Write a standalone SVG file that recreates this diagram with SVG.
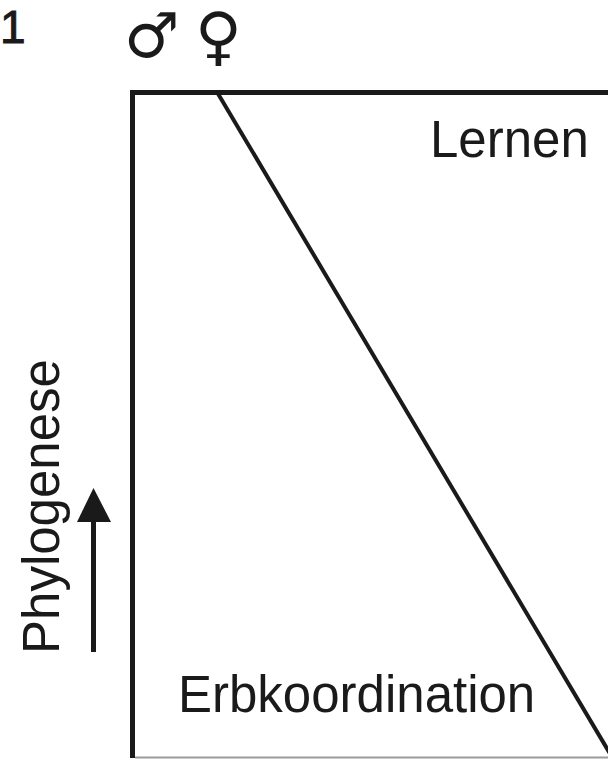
<svg xmlns="http://www.w3.org/2000/svg" width="608" height="759" viewBox="0 0 608 759">
<style>
.lbl{font-family:"Liberation Sans",Arial,sans-serif;font-size:51px;fill:#1a1a1a}
.sym{font-family:"DejaVu Sans",sans-serif;font-size:62px;fill:#1a1a1a}
.edge{stroke:#1a1a1a;fill:none}
</style>
<rect width="608" height="759" fill="#fff"/>
<g id="panel-number"><text class="lbl" x="0" y="43" style="font-size:46px;stroke:#1a1a1a;stroke-width:1">1</text></g>
<g id="symbols">
<text class="sym" x="124" y="57">♂</text>
<text class="sym" x="195" y="58" style="font-size:64px">♀</text>
</g>
<g id="box">
<line class="edge" x1="132.5" y1="92.5" x2="608" y2="92.5" stroke-width="5"/>
<line class="edge" x1="132.5" y1="90" x2="132.5" y2="758" stroke-width="5"/>
<line x1="135" y1="757.5" x2="608" y2="757.5" stroke="#9a9a9a" stroke-width="2"/>
</g>
<g id="connectors">
<line class="edge" x1="217" y1="92" x2="612" y2="757" stroke-width="4"/>
</g>
<g id="lernen"><text class="lbl" x="430" y="157">Lernen</text></g>
<g id="erbkoordination"><text class="lbl" x="178" y="712">Erbkoordination</text></g>
<g id="phylogenese">
<text class="lbl" transform="translate(59,654) rotate(-90)">Phylogenese</text>
<line x1="93.5" y1="652" x2="93.5" y2="515" stroke="#1a1a1a" stroke-width="5"/>
<polygon points="93.5,488 77,522 111,522" fill="#1a1a1a"/>
</g>
</svg>
